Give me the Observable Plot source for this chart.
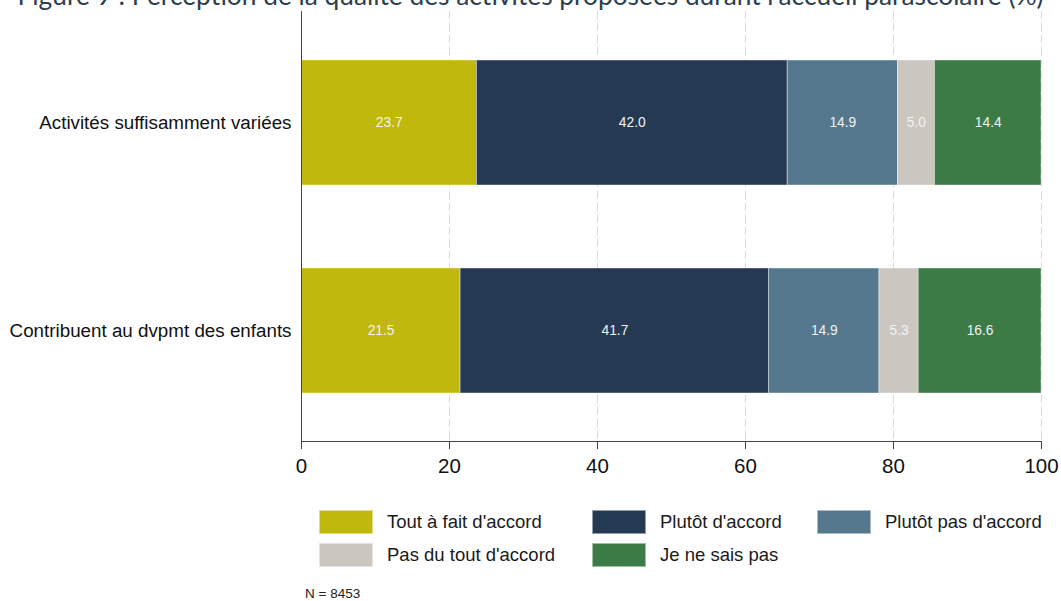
<!DOCTYPE html>
<html>
<head>
<meta charset="utf-8">
<script src="https://cdn.jsdelivr.net/npm/d3@7"></script>
<script src="https://cdn.jsdelivr.net/npm/@observablehq/plot@0.6"></script>
<style>
  html, body { margin: 0; padding: 0; background: #fff; overflow: hidden; }
  #wrap { position: relative; width: 1061px; height: 601px; overflow: hidden; }
  #title { position: absolute; left: -5px; width: 1071px; top: -18px; text-align: center;
    font-family: Lato, sans-serif; font-size: 26.3px; line-height: 26px; color: #2c3e50; white-space: nowrap; }
  #chart { position: absolute; left: 0; top: 0; }
  #legend { position: absolute; left: 319px; top: 510px; display: grid;
    grid-template-columns: 273px 225px auto; row-gap: 9px;
    font-family: "Liberation Sans", Arial, sans-serif; font-size: 18.5px; color: #1a1a1a; }
  .item { display: flex; align-items: center; height: 24px; }
  .sw { width: 54px; height: 24px; margin-right: 14px; box-sizing: border-box; border: 1px solid rgba(255,255,255,0.5); }
  #note { position: absolute; left: 305px; top: 586px; font-family: "Liberation Sans", Arial, sans-serif; font-size: 13.5px; color: #222; }
</style>
</head>
<body>
<div id="wrap">
  <div id="chart"></div>
  <div id="title"></div>
  <div id="legend"></div>
  <div id="note"></div>
</div>
<script>
const titleText = "Figure 9 : Perception de la qualité des activités proposées durant l'accueil parascolaire (%)";
const noteText = "N = 8453";
const categories = ["Activités suffisamment variées", "Contribuent au dvpmt des enfants"];
const series = ["Tout à fait d'accord", "Plutôt d'accord", "Plutôt pas d'accord", "Pas du tout d'accord", "Je ne sais pas"];
const colors = ["#c1b80e", "#253a52", "#56788f", "#ccc6c1", "#3c7a46"];
const valuesVariees = [23.7, 42.0, 14.9, 5.0, 14.4];
const valuesDvpmt = [21.5, 41.7, 14.9, 5.3, 16.6];
const xTicks = [0, 20, 40, 60, 80, 100];

const rows = [];
[valuesVariees, valuesDvpmt].forEach((vals, i) => {
  vals.forEach((v, j) => rows.push({cat: categories[i], serie: series[j], value: v}));
});

document.getElementById("title").textContent = titleText;
document.getElementById("note").textContent = noteText;

const chart = Plot.plot({
  width: 1061,
  height: 490,
  marginLeft: 301,
  marginRight: 20,
  marginTop: 11,
  marginBottom: 49,
  style: {fontFamily: "'Liberation Sans', Arial, sans-serif", background: "transparent"},
  x: {domain: [0, 100], ticks: xTicks, label: null},
  y: {domain: categories, paddingInner: 0.4, paddingOuter: 0.23, label: null},
  color: {domain: series, range: colors},
  marks: [
    Plot.gridX(xTicks.filter(d => d > 0), {stroke: "#d9d9d9", strokeOpacity: 1, strokeDasharray: "8,4"}),
    Plot.barX(rows, Plot.stackX({x: "value", y: "cat", fill: "serie", order: series, stroke: "#ffffff", strokeOpacity: 0.5, strokeWidth: 0.8})),
    Plot.textX(rows, Plot.stackX({x: "value", y: "cat", z: "serie", order: series, text: d => d.value.toFixed(1), fill: "#f2f2f2", fontSize: 13.8})),
    Plot.frame({anchor: "left", stroke: "#444"}),
    Plot.frame({anchor: "bottom", stroke: "#444"}),
    Plot.axisX({ticks: xTicks, tickSize: 8, tickPadding: 9, fontSize: 20.5, stroke: "#444", color: "#111", label: null}),
    Plot.axisY({tickSize: 0, tickPadding: 10, fontSize: 18.8, color: "#111", label: null})
  ]
});
document.getElementById("chart").appendChild(chart);

const legend = document.getElementById("legend");
series.forEach((s, i) => {
  const item = document.createElement("div");
  item.className = "item";
  const sw = document.createElement("div");
  sw.className = "sw";
  sw.style.background = colors[i];
  const lab = document.createElement("span");
  lab.textContent = s;
  item.appendChild(sw);
  item.appendChild(lab);
  legend.appendChild(item);
});
</script>
</body>
</html>
